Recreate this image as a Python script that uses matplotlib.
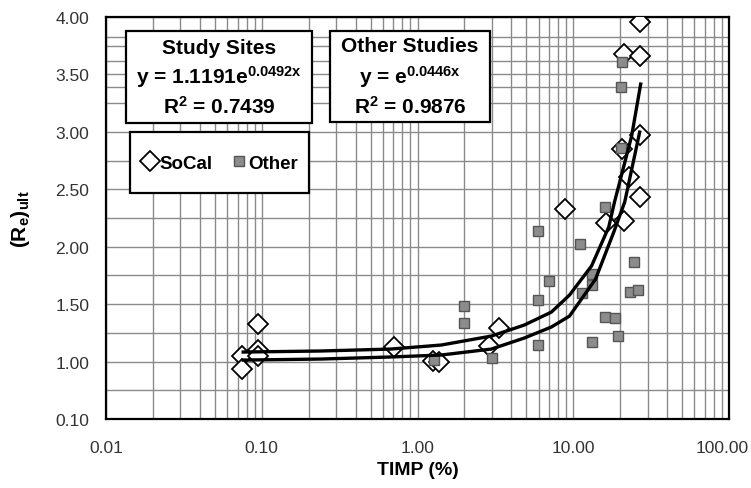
import numpy as np
import matplotlib.pyplot as plt
from matplotlib.patches import Rectangle
from matplotlib.lines import Line2D
from matplotlib.ticker import FixedLocator, LogLocator, NullFormatter
from matplotlib.transforms import ScaledTranslation

plt.rcParams['font.family'] = ['Liberation Sans', 'DejaVu Sans']
plt.rcParams['mathtext.fontset'] = 'custom'
plt.rcParams['mathtext.rm'] = 'Liberation Sans:bold'
plt.rcParams['mathtext.it'] = 'Liberation Sans:bold'
plt.rcParams['mathtext.bf'] = 'Liberation Sans:bold'

# SoCal study sites (open diamonds)
socal_timp = [0.075, 0.075, 0.094, 0.095, 0.095, 0.71, 1.26, 1.38, 2.89, 3.35,
              8.8, 16.3, 21.3, 22.7, 20.5, 26.7, 26.7, 21.1, 26.7, 26.7]
socal_re = [1.05, 0.935, 1.33, 1.10, 1.05, 1.13, 1.005, 0.995, 1.135, 1.29,
            2.33, 2.21, 2.22, 2.61, 2.85, 2.97, 2.43, 3.68, 3.66, 3.96]

# Other studies (grey squares)
other_timp = [1.28, 1.99, 1.99, 3.02, 5.97, 5.97, 5.97, 7.03, 11.1, 11.3, 13.1, 13.1,
              13.1, 15.9, 16.1, 18.5, 19.5, 20.5, 20.3, 20.3, 23.0, 24.4, 25.9]
other_re = [1.01, 1.48, 1.34, 1.03, 2.14, 1.54, 1.14, 1.70, 2.02, 1.60, 1.76, 1.67,
            1.17, 1.39, 2.35, 1.38, 1.22, 3.61, 3.39, 2.86, 1.61, 1.87, 1.62]

# trend curves
study_fit_x = [0.076, 0.239, 0.675, 1.42, 2.98, 4.85, 7.24, 9.46, 13.1, 16.9, 18.4, 23.7, 27.1]
study_fit_y = [1.083, 1.092, 1.109, 1.144, 1.222, 1.318, 1.431, 1.579, 1.832, 2.171, 2.389, 2.963, 3.416]
other_fit_x = [0.076, 0.239, 0.675, 1.42, 2.98, 4.85, 7.24, 9.46, 13.9, 18.2, 21.4, 26.7]
other_fit_y = [1.013, 1.022, 1.040, 1.057, 1.109, 1.205, 1.301, 1.396, 1.718, 2.127, 2.389, 2.998]

# axis ticks (bottom tick is labelled 0.10 in the original)
y_tick_vals = [0.5, 1.0, 1.5, 2.0, 2.5, 3.0, 3.5, 4.0]
y_tick_labels = ['0.10', '1.00', '1.50', '2.00', '2.50', '3.00', '3.50', '4.00']
x_tick_vals = [0.01, 0.1, 1, 10, 100]
x_tick_labels = ['0.01', '0.10', '1.00', '10.00', '100.00']
extra_grid_y = [3.39, 3.62, 3.83]

W, H = 751, 489
fig = plt.figure(figsize=(W / 100, H / 100), dpi=100)
ax = fig.add_axes([106 / W, 1 - 420 / H, 623 / W, 402 / H])

def fx(x):
    return x / W

def fy(y):
    return 1 - y / H

grid_col = '#8a8a8a'
ax.set_xscale('log')
ax.set_xlim(0.01, 100)
ax.set_ylim(0.5, 4.0)
ax.xaxis.set_major_locator(FixedLocator(x_tick_vals))
ax.set_xticklabels(x_tick_labels)
ax.xaxis.set_minor_locator(LogLocator(base=10, subs=np.arange(2, 10)))
ax.xaxis.set_minor_formatter(NullFormatter())
ax.set_yticks(y_tick_vals)
ax.set_yticklabels(y_tick_labels)
ax.yaxis.set_minor_locator(FixedLocator(np.arange(0.75, 4.0, 0.5)))
ax.grid(True, which='both', color=grid_col, linewidth=1.0)
for yv in extra_grid_y:
    ax.axhline(yv, color=grid_col, linewidth=1.0, zorder=0.5)
ax.set_axisbelow(True)
ax.tick_params(which='both', length=0)
ax.tick_params(axis='x', pad=15, labelsize=12.5, labelcolor='#333333')
ax.tick_params(axis='y', pad=12, labelsize=12.5, labelcolor='#333333')
for s in ax.spines.values():
    s.set_linewidth(1.6)

# last x label sits a little left of its tick so it stays inside the figure
last = ax.get_xticklabels()[-1]
last.set_transform(last.get_transform() + ScaledTranslation(-0.07, 0, fig.dpi_scale_trans))

ax.plot(socal_timp, socal_re, linestyle='none', marker='D', markersize=10,
        markerfacecolor='white', markeredgecolor='black', markeredgewidth=1.3, zorder=3)
ax.plot(other_timp, other_re, linestyle='none', marker='s', markersize=7,
        markerfacecolor='#8c8c8c', markeredgecolor='#555555', markeredgewidth=1.0, zorder=4)
ax.plot(study_fit_x, study_fit_y, color='black', linewidth=2.4, zorder=5)
ax.plot(other_fit_x, other_fit_y, color='black', linewidth=2.4, zorder=5)

ax.set_xlabel('TIMP (%)', fontsize=14, fontweight='bold')
ax.xaxis.set_label_coords(0.5, -0.105)
ax.set_ylabel(r'(R$_{\mathrm{e}}$)$_{\mathrm{ult}}$', fontsize=15, fontweight='bold')
ax.yaxis.set_label_coords(-0.118, 0.5)

# equation boxes and legend frame
for x0, x1, y0, y1 in [(126, 312, 32, 124), (330, 490, 32, 123), (130, 309, 133, 194)]:
    fig.add_artist(Rectangle((fx(x0), fy(y1)), (x1 - x0) / W, (y1 - y0) / H,
                             transform=fig.transFigure, facecolor='white',
                             edgecolor='black', linewidth=1.6, zorder=2))

tk = dict(ha='center', va='center', fontsize=15, fontweight='bold', zorder=3)
fig.text(fx(219), fy(48), 'Study Sites', **tk)
fig.text(fx(219), fy(77), r'y = 1.1191e$^{0.0492x}$', **tk)
fig.text(fx(219), fy(107), r'R$^{2}$ = 0.7439', **tk)
fig.text(fx(410), fy(47), 'Other Studies', **tk)
fig.text(fx(410), fy(77), r'y = e$^{0.0446x}$', **tk)
fig.text(fx(410), fy(107), r'R$^{2}$ = 0.9876', **tk)

handles = [Line2D([], [], linestyle='none', marker='D', markersize=10, markerfacecolor='white',
                  markeredgecolor='black', markeredgewidth=1.3),
           Line2D([], [], linestyle='none', marker='s', markersize=7, markerfacecolor='#8c8c8c',
                  markeredgecolor='#555555')]
leg = fig.legend(handles, ['SoCal', 'Other'], loc='center', bbox_to_anchor=(fx(220), fy(164)),
                 ncol=2, frameon=False, handlelength=0.8, handletextpad=0.1, columnspacing=1.0,
                 prop={'weight': 'bold', 'size': 13.5})
leg.set_zorder(6)

plt.savefig('out.png', dpi=100)
